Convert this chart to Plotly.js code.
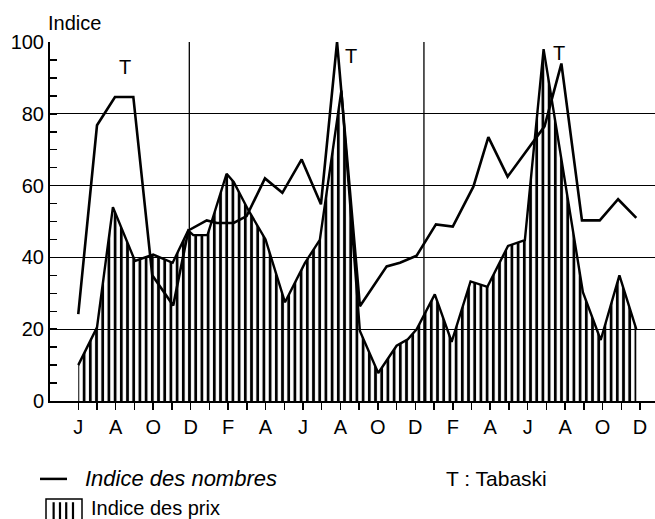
<!DOCTYPE html>
<html>
<head>
<meta charset="utf-8">
<script src="https://cdn.plot.ly/plotly-3.0.1.min.js"></script>
<style>html,body{margin:0;padding:0;background:#fff;}#chart{width:655px;height:519px;}</style>
</head>
<body>
<div id="chart"></div>
<script>
// Month index: 0 = June (year 1) ... 30 = December (year 3)
const monthTicks = [0,1,2,3,4,5,6,7,8,9,10,11,12,13,14,15,16,17,18,19,20,21,22,23,24,25,26,27,28,29,30];
const monthLabels = ['J','','A','','O','','D','','F','','A','','J','','A','','O','','D','','F','','A','','J','','A','','O','','D'];

// Indice des nombres (line)
const nombresX = [0, 1.0, 1.96, 2.94, 3.95, 5.07, 5.88, 6.86, 7.4, 8.3, 8.99, 9.97, 10.9, 11.93, 12.96, 13.82, 15.04, 15.57, 16.47, 17.18, 18.07, 19.1, 20.0, 21.1, 21.9, 22.93, 24.4, 24.9, 25.8, 26.9, 27.85, 28.83, 29.8];
const nombresY = [24.2, 76.8, 84.7, 84.7, 35, 26.6, 47.5, 50.3, 49.6, 49.6, 51.5, 62, 58, 67.3, 54.8, 100, 26.4, 30.4, 37.5, 38.5, 40.5, 49.2, 48.6, 59.7, 73.5, 62.5, 72.7, 76.5, 94, 50.3, 50.3, 56.2, 51];

// Indice des prix (hatched area)
const prixX = [0, 1.0, 1.85, 3.03, 4.0, 5.04, 5.87, 6.14, 6.9, 7.92, 8.3, 9.1, 10.0, 11.04, 12.1, 12.9, 14.05, 15.04, 16.02, 17.0, 17.6, 18.07, 19.04, 19.94, 20.95, 21.85, 22.95, 23.85, 24.85, 26.5, 26.95, 27.9, 28.9, 29.8];
const prixY = [10, 20.5, 54, 39, 40.8, 38.5, 47.5, 46.2, 46.2, 63.3, 61, 53, 45, 27.5, 38.4, 44.9, 86.5, 19.5, 7.8, 15.4, 17.2, 20, 29.7, 16.5, 33.3, 31.8, 43.2, 44.8, 98, 45, 30.3, 17, 35, 20];

// Tabaski markers
const tabX = [2.5, 14.55, 25.65];
const tabY = [93, 96, 97];

const yTicks = [0, 20, 40, 60, 80, 100];

const FONT = 'Liberation Sans, Arial, sans-serif';

const traces = [
  {
    x: prixX, y: prixY, type: 'scatter', mode: 'lines',
    line: {color: 'black', width: 2.4},
    fill: 'tozeroy', fillcolor: 'rgba(0,0,0,0)',
    fillpattern: {shape: '|', size: 6.2, solidity: 0.45, fgcolor: 'black', bgcolor: 'rgba(0,0,0,0)'},
    showlegend: false, hoverinfo: 'skip'
  },
  {
    x: nombresX, y: nombresY, type: 'scatter', mode: 'lines',
    line: {color: 'black', width: 2.6},
    showlegend: false, hoverinfo: 'skip'
  }
];

const annotations = tabX.map((x, i) => ({
  x: x, y: tabY[i], xref: 'x', yref: 'y', text: 'T', showarrow: false,
  font: {family: FONT, size: 20, color: 'black'}
}));
annotations.push(
  {xref: 'paper', yref: 'paper', x: -0.0066, y: 1.052, xanchor: 'left', yanchor: 'middle', text: 'Indice', showarrow: false,
   font: {family: FONT, size: 20, color: 'black'}},
  {xref: 'paper', yref: 'paper', x: 0.0545, y: -0.217, xanchor: 'left', yanchor: 'middle', text: '<i>Indice des nombres</i>', showarrow: false,
   font: {family: FONT, size: 22, color: 'black'}},
  {xref: 'paper', yref: 'paper', x: 0.651, y: -0.217, xanchor: 'left', yanchor: 'middle', text: 'T : Tabaski', showarrow: false,
   font: {family: FONT, size: 21, color: 'black'}},
  {xref: 'paper', yref: 'paper', x: 0.0645, y: -0.298, xanchor: 'left', yanchor: 'middle', text: 'Indice des prix', showarrow: false,
   font: {family: FONT, size: 20, color: 'black'}}
);

const shapes = [
  {type: 'line', xref: 'x', yref: 'y', x0: 5.93, x1: 5.93, y0: 0, y1: 100, line: {color: 'black', width: 1.3}, layer: 'below'},
  {type: 'line', xref: 'x', yref: 'y', x0: 18.46, x1: 18.46, y0: 0, y1: 100, line: {color: 'black', width: 1.3}, layer: 'below'},
  {type: 'line', xref: 'paper', yref: 'paper', x0: -0.0165, x1: 0.0281, y0: -0.217, y1: -0.217, line: {color: 'black', width: 2.5}},
  {type: 'rect', xref: 'paper', yref: 'paper', x0: -0.0066, x1: 0.0529, y0: -0.273, y1: -0.345, line: {color: 'black', width: 1.5}},
  {type: 'line', xref: 'paper', yref: 'paper', x0: 0.006, x1: 0.006, y0: -0.282, y1: -0.345, line: {color: 'black', width: 2.2}},
  {type: 'line', xref: 'paper', yref: 'paper', x0: 0.0165, x1: 0.0165, y0: -0.282, y1: -0.345, line: {color: 'black', width: 2.2}},
  {type: 'line', xref: 'paper', yref: 'paper', x0: 0.0268, x1: 0.0268, y0: -0.282, y1: -0.345, line: {color: 'black', width: 2.2}},
  {type: 'line', xref: 'paper', yref: 'paper', x0: 0.038, x1: 0.038, y0: -0.282, y1: -0.345, line: {color: 'black', width: 2.2}}
];

const layout = {
  width: 655, height: 519,
  margin: {l: 50, r: 0, t: 42, b: 118, pad: 0},
  paper_bgcolor: 'white', plot_bgcolor: 'white',
  font: {family: FONT, color: 'black'},
  xaxis: {
    range: [-1.51, 30.8], tickmode: 'array', tickvals: monthTicks, ticktext: monthLabels,
    ticks: 'outside', ticklen: 7, tickwidth: 1.5, tickcolor: 'black',
    showline: true, linewidth: 2, linecolor: 'black', showgrid: false, zeroline: false,
    tickfont: {size: 20, color: 'black'}, ticklabelstandoff: 0
  },
  yaxis: {
    range: [0, 100], tickmode: 'array', tickvals: yTicks,
    ticks: 'inside', ticklen: 7, tickwidth: 1.5, tickcolor: 'black',
    showline: true, linewidth: 2, linecolor: 'black',
    showgrid: true, gridcolor: 'black', gridwidth: 1.3, zeroline: false,
    minor: {dtick: 5, ticks: 'inside', ticklen: 7, tickwidth: 1.5, tickcolor: 'black', showgrid: false},
    tickfont: {size: 20, color: 'black'}
  },
  annotations: annotations,
  shapes: shapes,
  showlegend: false
};

Plotly.newPlot('chart', traces, layout, {displayModeBar: false, staticPlot: true});
</script>
</body>
</html>
